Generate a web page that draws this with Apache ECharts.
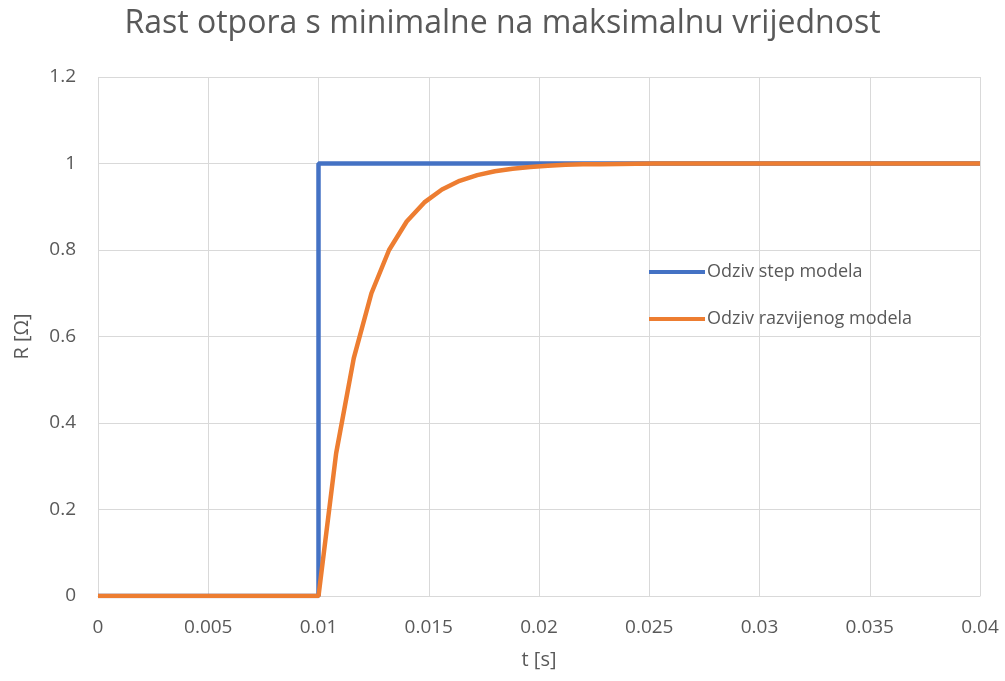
<!DOCTYPE html>
<html>
<head>
<meta charset="utf-8">
<script src="https://cdn.jsdelivr.net/npm/echarts@6/dist/echarts.min.js"></script>
<style>
  html, body { margin: 0; padding: 0; background: #fff; }
  #chart { width: 1005px; height: 681px; }
</style>
</head>
<body>
<div id="chart"></div>
<script>
// t [s] values and responses
const stepT = [0, 0.01, 0.01, 0.04];
const stepR = [0, 0, 1, 1];

const devT = [0, 0.01, 0.0108, 0.0116, 0.0124, 0.0132, 0.014, 0.0148, 0.0156, 0.0164,
  0.0172, 0.018, 0.0188, 0.0196, 0.0204, 0.0212, 0.022, 0.0228, 0.0236, 0.0244, 0.0252, 0.04];
const devR = [0, 0, 0.33, 0.55, 0.70, 0.80, 0.866, 0.91, 0.94, 0.96,
  0.973, 0.982, 0.988, 0.992, 0.995, 0.997, 0.998, 0.9985, 0.999, 0.9995, 1, 1];

const xTicks = [0, 0.005, 0.01, 0.015, 0.02, 0.025, 0.03, 0.035, 0.04];
const yTicks = [0, 0.2, 0.4, 0.6, 0.8, 1, 1.2];

const seriesNames = ['Odziv step modela', 'Odziv razvijenog modela'];
const colors = ['#4472c4', '#ed7d31'];

const font = 'Open Sans';
const chart = echarts.init(document.getElementById('chart'));

const option = {
  color: colors,
  title: {
    text: 'Rast otpora s minimalne na maksimalnu vrijednost',
    left: 'center',
    top: 3,
    textStyle: { fontFamily: font, fontSize: 32, fontWeight: 'normal', color: '#595959' }
  },
  legend: {
    orient: 'vertical',
    left: 644,
    top: 258,
    itemGap: 29,
    itemWidth: 56,
    itemHeight: 4,
    icon: 'rect',
    textStyle: { fontFamily: font, fontSize: 18, color: '#595959', padding: [0, 0, 0, -3] },
    data: seriesNames
  },
  grid: { left: 98, right: 25, top: 77, bottom: 85 },
  xAxis: {
    type: 'value',
    min: xTicks[0],
    max: xTicks[xTicks.length - 1],
    interval: 0.005,
    name: 't [s]',
    nameLocation: 'middle',
    nameGap: 54,
    nameTextStyle: { fontFamily: font, fontSize: 20, color: '#595959' },
    axisLine: { show: true, lineStyle: { color: '#d9d9d9' } },
    axisTick: { show: false },
    axisLabel: { fontFamily: font, fontSize: 19, color: '#595959', margin: 22 },
    splitLine: { lineStyle: { color: '#d9d9d9' } }
  },
  yAxis: {
    type: 'value',
    min: yTicks[0],
    max: yTicks[yTicks.length - 1],
    interval: 0.2,
    name: 'R [Ω]',
    nameLocation: 'middle',
    nameGap: 66,
    nameTextStyle: { fontFamily: font, fontSize: 20, color: '#595959' },
    axisLine: { show: false },
    axisTick: { show: false },
    axisLabel: { fontFamily: font, fontSize: 19, color: '#595959', margin: 22 },
    splitLine: { lineStyle: { color: '#d9d9d9' } }
  },
  series: [
    {
      name: seriesNames[0],
      type: 'line',
      data: stepT.map((t, i) => [t, stepR[i]]),
      showSymbol: false,
      lineStyle: { width: 4.5 }
    },
    {
      name: seriesNames[1],
      type: 'line',
      data: devT.map((t, i) => [t, devR[i]]),
      showSymbol: false,
      lineStyle: { width: 4.5 }
    }
  ]
};

chart.setOption(option);
</script>
</body>
</html>
